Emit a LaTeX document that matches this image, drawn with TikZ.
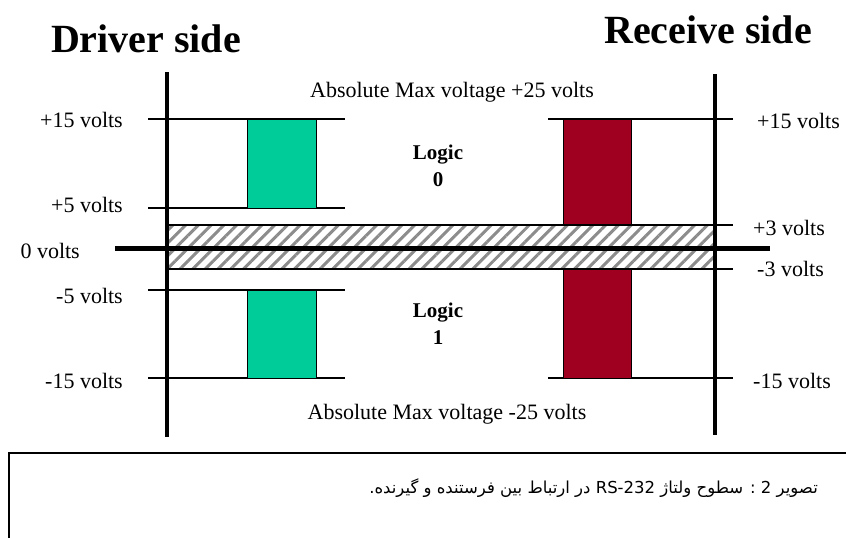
\documentclass[tikz,border=0pt]{standalone}
\usepackage{fontspec}
\setmainfont{Liberation Serif}
\newfontfamily\arabicfont[Script=Arabic]{DejaVu Sans}
\TeXXeTstate=1
\usetikzlibrary{patterns.meta}
\definecolor{drvgreen}{RGB}{0,204,153}
\definecolor{rcvred}{RGB}{160,0,32}
\definecolor{hatchgray}{RGB}{140,140,140}
\tikzset{
  volt/.style={font=\fontsize{22}{24}\selectfont, inner sep=0pt},
  head/.style={font=\fontsize{40}{44}\selectfont\bfseries, inner sep=0pt},
  logic/.style={font=\fontsize{21}{27}\selectfont\bfseries, align=center, inner sep=0pt},
  axisline/.style={line width=4pt},
  tickline/.style={line width=1.5pt},
  zeroline/.style={line width=5pt},
  barbox/.style={draw=black, line width=0.8pt},
  hatchband/.style={draw=black, line width=1.5pt, pattern={Lines[angle=45,distance=9pt,line width=3pt]}, pattern color=hatchgray},
  capbox/.style={line width=1.5pt}
}
\begin{document}
\begin{tikzpicture}[x=1pt,y=-1pt]
\useasboundingbox (0,0) rectangle (846,538);
% coordinates
\coordinate (axL1) at (167,72);  \coordinate (axL2) at (167,437);
\coordinate (axR1) at (715,74);  \coordinate (axR2) at (715,435);
% tick lines
\draw[tickline] (148,119) -- (345,119);
\draw[tickline] (148,208) -- (345,208);
\draw[tickline] (148,290) -- (345,290);
\draw[tickline] (148,378) -- (345,378);
\draw[tickline] (548,119) -- (733,119);
\draw[tickline] (548,378) -- (733,378);
% bars
\filldraw[barbox, fill=drvgreen] (247,119) rectangle (316,208);
\filldraw[barbox, fill=drvgreen] (247,290) rectangle (316,378);
\filldraw[barbox, fill=rcvred] (563,119) rectangle (631,225);
\filldraw[barbox, fill=rcvred] (563,269) rectangle (631,378);
% hatched band
\draw[hatchband] (167,225) rectangle (715,269);
\draw[tickline] (715,225) -- (733,225);
\draw[tickline] (715,269) -- (733,269);
\draw[zeroline] (115,248) -- (770,248);
% axes
\draw[axisline] (axL1) -- (axL2);
\draw[axisline] (axR1) -- (axR2);
% headings
\node[head, anchor=base] (drv) at (146,52) {Driver side};
\node[head, anchor=base] (rcv) at (708,43) {Receive side};
% max voltage
\node[volt, anchor=base] (maxp) at (452,97) {Absolute Max voltage +25 volts};
\node[volt, anchor=base] (maxn) at (447,419) {Absolute Max voltage -25 volts};
% logic
\node[logic] (l0) at (438,166) {Logic\\0};
\node[logic] (l1) at (438,324) {Logic\\1};
% left labels
\node[volt, anchor=base east] (lp15) at (123,127) {+15 volts};
\node[volt, anchor=base east] (lp5) at (123,212) {+5 volts};
\node[volt, anchor=base east] (l00) at (80,258) {0 volts};
\node[volt, anchor=base east] (lm5) at (123,303) {-5 volts};
\node[volt, anchor=base east] (lm15) at (123,388) {-15 volts};
% right labels
\node[volt, anchor=base west] (rp15) at (757,128) {+15 volts};
\node[volt, anchor=base west] (rp3) at (753,235) {+3 volts};
\node[volt, anchor=base west] (rm3) at (757,276) {-3 volts};
\node[volt, anchor=base west] (rm15) at (753,388) {-15 volts};
% caption box
\draw[capbox] (846,453) -- (9,453) -- (9,538);
\node[anchor=base east, inner sep=0pt] (cap) at (818,493)
  {\arabicfont\fontsize{16.5}{20}\selectfont\beginR تصویر 2 : سطوح ولتاژ  \beginL RS-232\endL{} در ارتباط بین فرستنده و گیرنده.\endR};
\end{tikzpicture}
\end{document}
